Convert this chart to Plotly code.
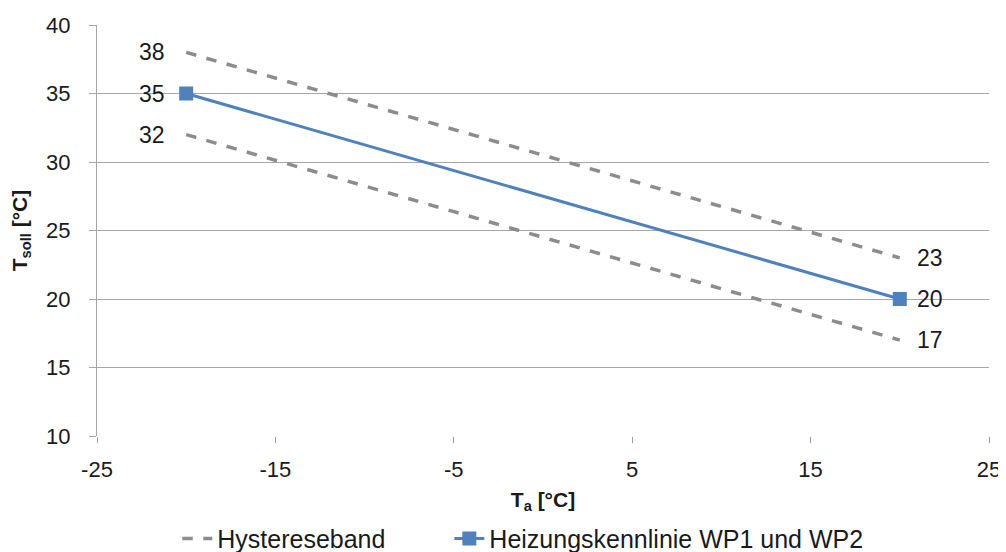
import plotly.graph_objects as go

x_points = [-20, 20]
upper_band = [38, 23]
lower_band = [32, 17]
heating_curve = [35, 20]

x_ticks = [-25, -15, -5, 5, 15, 25]
x_tick_labels = ["-25", "-15", "-5", "5", "15", "25"]
y_ticks = [10, 15, 20, 25, 30, 35, 40]

FONT = "Liberation Sans, Arial, sans-serif"
GRAY = "#8C8C8C"
BLUE = "#4F81BD"
TXT = "#1a1a1a"

fig = go.Figure()
fig.add_trace(go.Scatter(
    x=x_points, y=upper_band, mode="lines", name="Hystereseband",
    line=dict(color=GRAY, width=3.5, dash="dash"),
    legendgroup="h", showlegend=True, legend="legend"))
fig.add_trace(go.Scatter(
    x=x_points, y=lower_band, mode="lines", name="Hystereseband",
    line=dict(color=GRAY, width=3.5, dash="dash"),
    legendgroup="h", showlegend=False, legend="legend"))
fig.add_trace(go.Scatter(
    x=x_points, y=heating_curve, mode="lines+markers",
    name="Heizungskennlinie WP1 und WP2",
    line=dict(color=BLUE, width=3),
    marker=dict(symbol="square", size=14, color=BLUE), legend="legend2"))

for series in (upper_band, heating_curve, lower_band):
    fig.add_annotation(x=x_points[0], y=series[0], text=str(series[0]),
                       xanchor="right", yanchor="middle", xshift=-19, showarrow=False,
                       font=dict(size=23, color=TXT, family=FONT))
    fig.add_annotation(x=x_points[1], y=series[1], text=str(series[1]),
                       xanchor="left", yanchor="middle", xshift=15, showarrow=False,
                       font=dict(size=23, color=TXT, family=FONT))

legend_style = dict(orientation="h", xanchor="left", y=-0.25, yanchor="middle",
                    font=dict(size=25, family=FONT, color=TXT), bgcolor="rgba(0,0,0,0)")

# page body has an 8px margin, so the figure is sized to fit the 1006x552 window
fig.update_layout(
    width=998, height=544,
    margin=dict(l=89, r=17, t=17, b=116, autoexpand=False),
    paper_bgcolor="white", plot_bgcolor="white",
    font=dict(family=FONT, size=22, color=TXT),
    legend=dict(x=0.09, **legend_style),
    legend2=dict(x=0.395, **legend_style),
    showlegend=True,
)
fig.update_xaxes(
    range=[-25, 25], tickvals=x_ticks, ticktext=x_tick_labels,
    showgrid=False, zeroline=False, automargin=False,
    showline=False, ticks="outside", ticklen=6, tickcolor="#A0A0A0",
    ticklabelstandoff=8, tickfont=dict(size=22),
    title=dict(text="<b>T<sub>a</sub> [°C]</b>", font=dict(size=21), standoff=10))
fig.update_yaxes(
    range=[10, 40], tickvals=y_ticks, showgrid=True, gridcolor="#A6A6A6", gridwidth=1,
    zeroline=False, showline=True, linecolor="#A6A6A6", linewidth=1, automargin=False,
    ticks="outside", ticklen=7, tickcolor="#A6A6A6", ticklabelstandoff=14,
    tickfont=dict(size=22),
    title=dict(text="<b>T<sub>soll</sub> [°C]</b>", font=dict(size=21), standoff=22))

fig.write_html("out.html")
